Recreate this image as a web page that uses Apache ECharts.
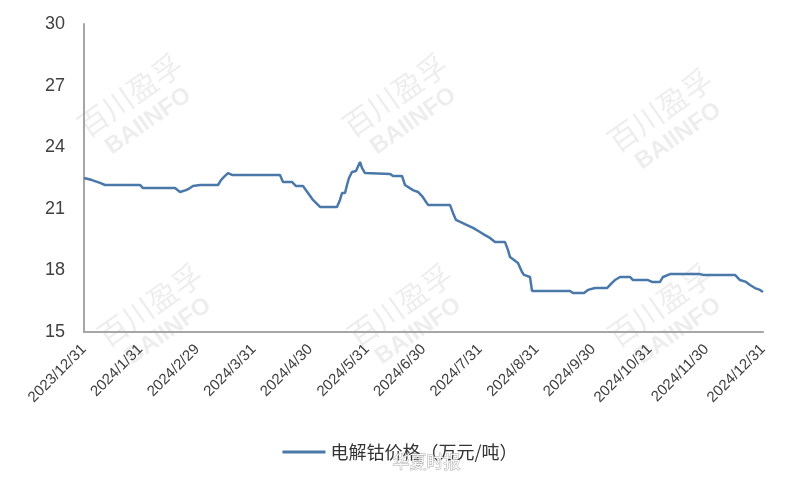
<!DOCTYPE html>
<html>
<head>
<meta charset="utf-8">
<script src="https://cdn.jsdelivr.net/npm/echarts@6/dist/echarts.min.js"></script>
<style>html,body{margin:0;padding:0;background:#fff}#c{width:800px;height:480px}</style>
</head>
<body>
<div id="c"></div>
<script>
// Tick labels of the x axis (month ends)
const monthLabels = ['2023/12/31','2024/1/31','2024/2/29','2024/3/31','2024/4/30','2024/5/31','2024/6/30','2024/7/31','2024/8/31','2024/9/30','2024/10/31','2024/11/30','2024/12/31'];
// Position in months since 2023/12/31
const xMonths = [0,0.141,0.283,0.371,0.990,1.043,1.608,1.697,1.803,1.873,1.926,2.050,2.368,2.421,2.474,2.545,2.616,2.810,3.464,3.517,3.676,3.747,3.870,3.959,4.047,4.171,4.471,4.524,4.560,4.613,4.648,4.683,4.736,4.807,4.878,4.913,4.966,5.408,5.461,5.620,5.673,5.814,5.903,5.974,6.080,6.468,6.521,6.574,6.769,6.875,6.998,7.087,7.175,7.264,7.441,7.494,7.529,7.670,7.741,7.776,7.882,7.918,8.589,8.642,8.837,8.907,9.031,9.243,9.331,9.384,9.473,9.649,9.703,9.968,10.039,10.180,10.233,10.357,10.887,10.940,11.505,11.593,11.699,11.770,11.858,11.947,12.000];
// 电解钴价格 (万元/吨)
const prices = [22.50,22.40,22.26,22.16,22.16,22.01,22.01,21.82,21.91,22.01,22.11,22.16,22.16,22.40,22.55,22.74,22.65,22.65,22.65,22.31,22.31,22.11,22.11,21.77,21.43,21.09,21.09,21.43,21.77,21.77,22.16,22.50,22.79,22.84,23.28,22.99,22.74,22.70,22.60,22.60,22.16,21.91,21.82,21.62,21.19,21.19,20.80,20.46,20.21,20.07,19.87,19.72,19.58,19.38,19.38,18.99,18.65,18.36,17.92,17.78,17.68,17.00,17.00,16.90,16.90,17.05,17.14,17.14,17.39,17.53,17.68,17.68,17.53,17.53,17.44,17.44,17.68,17.82,17.82,17.78,17.78,17.53,17.44,17.29,17.14,17.05,16.95];
const yTicks = [15, 18, 21, 24, 27, 30];
const seriesName = '电解钴价格（万元/吨）';

const chart = echarts.init(document.getElementById('c'), null, {renderer: 'canvas'});

function watermark(x, y) {
  return {
    type: 'group', x: x, y: y, rotation: 35 * Math.PI / 180, silent: true, z: -10,
    children: [
      {type: 'text', x: 0, y: 0, style: {text: '百川盈孚', font: '30px "Noto Sans CJK SC"', fill: 'rgba(0,0,0,0.07)', textAlign: 'center', textVerticalAlign: 'middle'}},
      {type: 'text', x: 0, y: 32, style: {text: 'BAIINFO', font: 'bold 24px "Liberation Sans"', fill: 'rgba(0,0,0,0.07)', textAlign: 'center', textVerticalAlign: 'middle'}}
    ]
  };
}

chart.setOption({
  animation: false,
  grid: {left: 84, right: 37, top: 24, bottom: 148, containLabel: false},
  legend: {
    data: [seriesName], top: 438, left: 'center',
    itemWidth: 43, itemHeight: 14, itemGap: 10,
    icon: 'path://M0,6 L43,6 L43,9 L0,9 Z',
    textStyle: {fontFamily: '"Noto Sans CJK SC"', fontSize: 18, color: '#333'}
  },
  xAxis: {
    type: 'value', min: 0, max: 12, interval: 1,
    axisLine: {show: true, lineStyle: {color: '#a6a6a6', width: 2}},
    axisTick: {show: false},
    splitLine: {show: false},
    axisLabel: {
      rotate: 45, margin: 15, fontSize: 15, color: '#404040', fontFamily: '"Liberation Sans"',
      showMinLabel: true, showMaxLabel: true,
      formatter: v => monthLabels[Math.round(v)]
    }
  },
  yAxis: {
    type: 'value', min: yTicks[0], max: yTicks[yTicks.length - 1], interval: 3,
    axisLine: {show: true, lineStyle: {color: '#a6a6a6', width: 2}},
    axisTick: {show: false},
    splitLine: {show: false},
    axisLabel: {margin: 19, fontSize: 18, color: '#404040', fontFamily: '"Liberation Sans"'}
  },
  graphic: [
    watermark(130, 95), watermark(395, 95), watermark(660, 110),
    watermark(150, 305), watermark(400, 305), watermark(660, 305),
    {type: 'text', left: 392, top: 453, silent: true, z: 100,
     style: {text: '华夏时报', font: '17px "Noto Sans CJK SC"', fill: 'rgba(255,255,255,0.9)', stroke: 'rgba(120,120,120,0.6)', lineWidth: 1}}
  ],
  series: [{
    name: seriesName, type: 'line', showSymbol: false, symbol: 'none',
    lineStyle: {color: '#4a78a8', width: 2.5}, itemStyle: {color: '#4a78a8'},
    data: xMonths.map((m, i) => [m, prices[i]])
  }]
});
</script>
</body>
</html>
